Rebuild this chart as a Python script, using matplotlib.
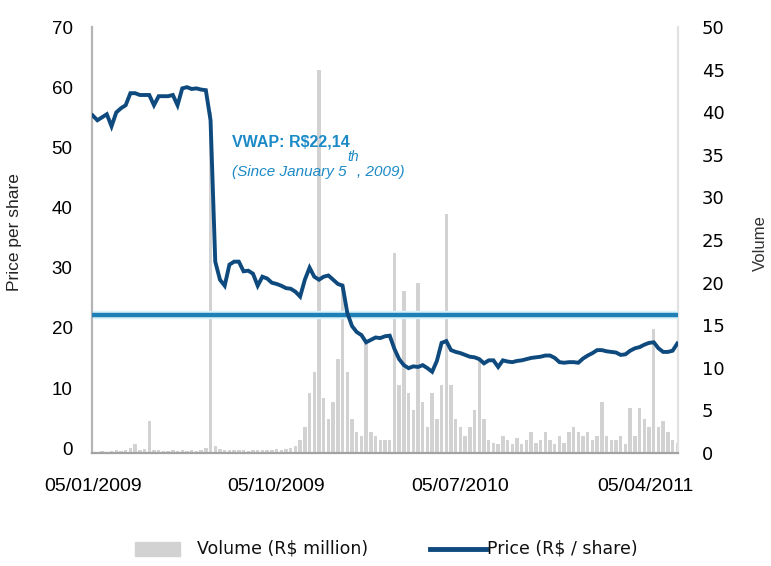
import numpy as np
import pandas as pd
import matplotlib
matplotlib.use("Agg")
import matplotlib.pyplot as plt
from matplotlib.patches import Rectangle
from matplotlib.lines import Line2D

plt.rcParams["font.family"] = ["Liberation Sans", "DejaVu Sans"]

# weekly closing price (R$ / share), from the week of 05/01/2009
price = [55.3, 54.5, 55.0, 55.5, 53.5, 55.8, 56.5, 57.0, 59.0, 59.0,
         58.7, 58.7, 58.7, 57.0, 58.5, 58.5, 58.5, 58.7, 57.0, 59.8,
         60.0, 59.7, 59.8, 59.6, 59.5, 54.5, 31.0, 28.0, 27.0, 30.5,
         31.0, 31.0, 29.4, 29.5, 29.0, 27.0, 28.5, 28.2, 27.5, 27.3,
         27.0, 26.6, 26.5, 26.0, 25.2, 28.0, 30.0, 28.5, 28.0, 28.5,
         28.7, 28.0, 27.3, 27.0, 22.5, 20.3, 19.3, 18.8, 17.6, 18.0,
         18.4, 18.3, 18.6, 18.7, 16.5, 14.8, 13.8, 13.3, 13.6, 13.5,
         13.8, 13.3, 12.7, 14.5, 17.5, 17.8, 16.3, 16.0, 15.8, 15.5,
         15.2, 15.1, 14.8, 14.1, 14.6, 14.6, 13.5, 14.6, 14.4, 14.3,
         14.5, 14.6, 14.8, 15.0, 15.1, 15.2, 15.4, 15.4, 15.0, 14.3,
         14.2, 14.3, 14.3, 14.2, 14.9, 15.4, 15.8, 16.3, 16.3, 16.1,
         16.0, 15.9, 15.5, 15.6, 16.2, 16.6, 16.8, 17.2, 17.5, 17.6,
         16.6, 16.0, 16.0, 16.2, 17.4]

# weekly traded volume (R$ million)
volume = [0.1, 0.1, 0.2, 0.1, 0.2, 0.3, 0.2, 0.4, 0.6, 1.0,
          0.4, 0.5, 3.7, 0.4, 0.3, 0.2, 0.2, 0.3, 0.2, 0.3,
          0.2, 0.3, 0.2, 0.4, 0.6, 40.0, 0.8, 0.5, 0.4, 0.3,
          0.3, 0.4, 0.3, 0.2, 0.3, 0.4, 0.3, 0.3, 0.4, 0.5,
          0.4, 0.5, 0.6, 0.8, 1.5, 3.0, 7.0, 9.5, 45.0, 6.5,
          4.0, 6.0, 11.0, 20.0, 9.5, 4.0, 2.5, 2.0, 13.0, 2.5,
          2.0, 1.5, 1.5, 1.5, 23.5, 8.0, 19.0, 7.0, 5.0, 20.0,
          6.0, 3.0, 7.0, 4.0, 8.0, 28.0, 8.0, 4.0, 3.0, 2.0,
          3.0, 5.0, 11.0, 4.0, 1.5, 1.2, 1.0, 2.0, 1.5, 1.0,
          1.8, 1.0, 1.5, 2.5, 1.2, 1.5, 2.5, 1.5, 1.0, 2.0,
          1.2, 2.5, 3.0, 2.5, 2.0, 2.5, 1.5, 2.0, 6.0, 2.0,
          1.5, 1.5, 2.0, 1.0, 5.3, 2.0, 5.3, 4.0, 3.0, 14.6,
          3.0, 3.7, 2.5, 1.5, 1.2]

vwap = 22.14
tick_dates = ["2009-01-05", "2009-10-05", "2010-07-05", "2011-04-05"]
tick_labels = ["05/01/2009", "05/10/2009", "05/07/2010", "05/04/2011"]
price_ticks = list(range(0, 71, 10))
volume_ticks = list(range(0, 51, 5))

weeks = pd.date_range("2009-01-05", periods=len(price), freq="7D")

W, H = 771, 566
fig = plt.figure(figsize=(W / 100, H / 100), dpi=100)
ax = fig.add_axes([92 / W, (H - 453) / H, 586 / W, 426 / H])
ax2 = ax.twinx()

# volume on the right axis, drawn behind the price
ax2.bar(weeks, volume, width=5, color="#d2d2d2", zorder=1)
ax2.set_ylim(0, 50)
ax2.set_yticks(volume_ticks, [str(v) for v in volume_ticks],
               fontfamily="DejaVu Sans", fontsize=13)
ax.set_zorder(ax2.get_zorder() + 1)
ax.patch.set_visible(False)

ax.axhline(vwap, color="#d9f3fb", lw=6, zorder=2)
ax.axhline(vwap, color="#1f80b5", lw=3.2, zorder=3)
ax.plot(weeks, price, color="#0f4a7e", lw=2.8, zorder=4,
        solid_joinstyle="miter")

ax.set_ylim(-0.8, 70)
ax.set_yticks(price_ticks, [str(v) for v in price_ticks],
              fontfamily="Liberation Sans", fontsize=13.5)
ax.set_xlim(pd.Timestamp("2009-01-04"), pd.Timestamp("2011-05-24"))
ax.set_xticks([pd.Timestamp(d) for d in tick_dates], tick_labels,
              fontfamily="Liberation Sans", fontsize=14)

for a in (ax, ax2):
    a.spines["top"].set_visible(False)
ax.spines["left"].set_color("#b5b5b5")
ax.spines["left"].set_linewidth(1.6)
ax.spines["bottom"].set_color("#a3a3a3")
ax.spines["bottom"].set_linewidth(1.6)
ax.spines["right"].set_visible(False)
ax2.spines["left"].set_visible(False)
ax2.spines["bottom"].set_visible(False)
ax2.spines["right"].set_color("#e2e2e2")
ax2.spines["right"].set_linewidth(1.6)

ax.tick_params(axis="y", length=0, pad=14)
ax.tick_params(axis="x", length=0, pad=18)
ax2.tick_params(axis="y", length=0, pad=17)

fig.text(15 / W, (H - 232) / H, "Price per share", rotation=90,
         ha="center", va="center", fontsize=12.5, color="#222222")
fig.text(760 / W, (H - 243) / H, "Volume", rotation=90,
         ha="center", va="center", fontsize=12, color="#333333")

blue = "#1b8ac6"
fig.text(232 / W, (H - 142) / H, "VWAP: R$22,14", ha="left", va="center",
         fontsize=11.5, fontweight="bold", color=blue)
fig.text(232 / W, (H - 172) / H, "(Since January 5", ha="left", va="center",
         fontsize=11, style="italic", color=blue)
fig.text(347 / W, (H - 157) / H, "th", ha="left", va="center",
         fontsize=10, style="italic", color=blue)
fig.text(357 / W, (H - 172) / H, ", 2009)", ha="left", va="center",
         fontsize=11, style="italic", color=blue)

# legend row along the bottom
fig.add_artist(Rectangle((135 / W, (H - 556) / H), 45 / W, 14 / H,
                         transform=fig.transFigure, color="#d2d2d2"))
fig.text(197 / W, (H - 549) / H, "Volume (R$ million)", ha="left",
         va="center", fontsize=12.5, family="DejaVu Sans", color="#111111")
fig.add_artist(Line2D([430 / W, 486 / W], [(H - 549) / H] * 2,
                      transform=fig.transFigure, color="#0f4a7e", lw=3.5))
fig.text(487 / W, (H - 549) / H, "Price (R$ / share)", ha="left",
         va="center", fontsize=12.5, family="DejaVu Sans", color="#111111")

fig.savefig("out.png", dpi=100)
